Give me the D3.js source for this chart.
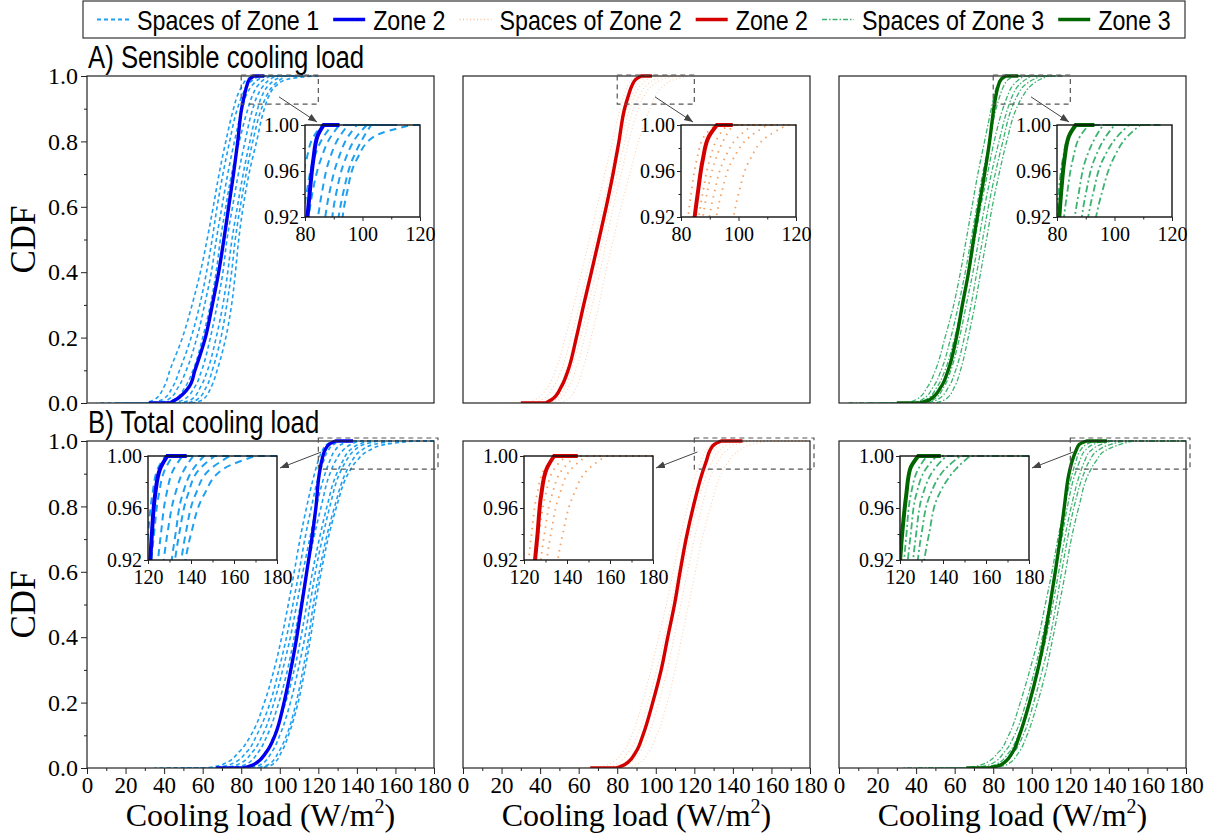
<!DOCTYPE html>
<html>
<head>
<meta charset="utf-8">
<script src="https://cdnjs.cloudflare.com/ajax/libs/d3/7.8.5/d3.min.js"></script>
<style>
  body { margin: 0; background: #fff; }
  svg { display: block; }
</style>
</head>
<body>
<svg width="1222" height="840"></svg>
<script>
var levels = [0, 0.01, 0.05, 0.1, 0.2, 0.3, 0.4, 0.5, 0.6, 0.7, 0.8, 0.9, 0.94, 0.97, 0.99, 1];

// one curve = [start of flat part at 0, load at each level above ..., end of flat part at 1]  (W/m2)
var sensZone1 = [32, 43, 46, 53, 56, 61.4, 65, 68.3, 71, 73.5, 76, 78.2, 80.2, 81.6, 82.9, 84.3, 86.5, 92];
var sensSpaces1 = [
  [5, 30, 35, 40, 43, 49.5, 54.5, 58.8, 62.3, 65.5, 68.5, 72, 76, 78, 80.5, 83, 86, 96],
  [15, 34, 39, 44.5, 48, 54, 58.5, 62, 64.9, 67.5, 70.5, 74, 78, 80.5, 83, 86.5, 89.5, 100],
  [20, 37, 42, 47.5, 51.5, 57, 61, 64.5, 67.1, 70, 73, 76.5, 80.5, 82.5, 85.5, 89, 92, 104],
  [25, 40, 45, 51, 55, 60, 64, 67, 69.2, 72, 75, 79, 83.5, 85.8, 88.5, 92, 95, 106],
  [30, 45, 50, 56, 59.5, 64, 67.5, 70.5, 72.6, 75.5, 78.5, 82, 86, 88.4, 91.5, 95, 98, 108],
  [35, 48, 54, 59, 62.5, 67, 70.5, 73, 75.2, 78, 81, 84.5, 88.5, 90.8, 94, 98, 101.5, 110],
  [40, 52, 57, 62, 65, 69.5, 72.5, 75, 76.9, 79.5, 82.5, 86, 90.5, 93.2, 96.5, 100.5, 103, 112],
  [45, 55, 60, 64.5, 67.5, 72, 75, 77, 78.7, 81, 84, 88, 92, 94.5, 98, 104, 117, 120]
];

var sensZone2 = [30, 43, 45.9, 51, 54.5, 58.8, 62.6, 66.6, 70.5, 74.3, 77.8, 80.9, 83.8, 85.8, 87.6, 89.7, 92.5, 98];
var sensSpaces2 = [
  [15, 32, 37, 44, 48, 53, 57.5, 61.5, 65.5, 69.5, 73.5, 77.5, 81.5, 83.5, 85.5, 88, 92, 100],
  [20, 36, 41, 47, 51, 56, 60.5, 64.5, 68.5, 72.5, 76.5, 80.5, 85, 87.5, 90, 93, 96, 104],
  [25, 40, 45, 50, 53.5, 58, 62, 66, 70, 74, 78, 82, 86.5, 89, 92, 95.5, 98, 108],
  [30, 44, 48, 53, 56, 61, 65, 69, 72.5, 76, 80, 84, 88.5, 91.5, 95, 100, 105, 112],
  [32, 46, 50, 55, 58.5, 63, 67, 71, 74.5, 78, 82, 86, 91, 94, 98, 104, 110, 116],
  [35, 50, 54, 59, 62, 66.5, 70.5, 74, 78, 82, 86.5, 91, 97, 100, 104, 110, 117, 120]
];

var sensZone3 = [30, 42, 47, 53, 56.6, 60.9, 64, 67.2, 69.8, 72.6, 75.5, 78.1, 80.3, 81.4, 82.6, 84.1, 86.5, 93];
var sensSpaces3 = [
  [5, 35, 40, 46, 50, 55, 59.5, 63, 66, 69, 72, 75.5, 79, 80.5, 82, 84, 87, 95],
  [15, 38, 43, 49, 53, 58, 62, 65.5, 68.5, 71.5, 74.5, 78, 81.5, 83.5, 85.5, 88, 91, 100],
  [20, 40, 45, 51, 55, 60, 64, 67.5, 70.5, 73.5, 77, 80.5, 85, 87.5, 90, 93.5, 96, 104],
  [25, 44, 49, 54.5, 58, 62.5, 66, 69.5, 72.5, 75.5, 79, 83, 87.5, 90, 93, 97, 100, 108],
  [30, 46, 51, 57, 60.5, 65, 68.5, 71.5, 74.5, 77.5, 81, 85, 89.5, 92.5, 96, 101, 105, 112],
  [35, 50, 55, 60, 63, 67, 70.5, 73.5, 76.5, 79.5, 83, 87, 92, 95.5, 99.5, 104.5, 109, 116]
];

var totZone1 = [67, 81, 86.3, 93.2, 97.5, 102.2, 105.7, 108.8, 111.4, 114, 116.6, 118.8, 120.5, 121.8, 123.3, 125.6, 129, 138];
var totSpaces1 = [
  [35, 62, 70, 79, 85, 92, 97, 101, 104.4, 107.5, 110.5, 114, 118, 120, 122, 124.5, 128, 180],
  [40, 66, 74, 83, 88, 95, 99.5, 103.5, 106.8, 110, 113, 116.5, 120.5, 122.8, 125, 128, 131.5, 180],
  [45, 70, 78, 86, 91, 97, 101.5, 105.5, 108.8, 112, 115.5, 119, 123.5, 126, 128.5, 132, 136, 180],
  [50, 74, 82, 89, 93.5, 99.5, 104, 107.5, 110.8, 114, 117.5, 121.5, 126, 129, 132.5, 137, 141, 180],
  [55, 80, 87, 93, 97, 103, 107.5, 111, 114, 117, 120.5, 124.5, 129.5, 132.8, 136, 141, 146, 180],
  [60, 84, 90, 96, 100, 105.5, 109.5, 113, 115.7, 118.5, 122, 126, 131, 134.5, 138.5, 144, 151, 180],
  [65, 88, 94, 99.5, 103.5, 108.5, 112, 115, 117.4, 120.5, 124, 128.5, 134, 137.5, 142, 149, 158, 180],
  [70, 90, 96, 101, 104.5, 109.5, 113, 116, 118.5, 121.5, 125, 129.5, 135.5, 140, 146, 155, 170, 180]
];

var totZone2 = [66, 79.5, 83.8, 89.8, 93.3, 98.4, 102.8, 106.2, 109.7, 112.6, 115.7, 119.5, 124, 126.3, 128, 130.5, 134, 145];
var totSpaces2 = [
  [50, 68, 75, 83, 87.5, 93, 97.5, 101.5, 105.5, 109, 112.5, 116.5, 121, 123.5, 126, 129.5, 134, 180],
  [55, 72, 79, 86, 90.5, 96, 100.5, 104.5, 108, 111.5, 115, 119, 124, 127, 130, 134, 139.5, 180],
  [58, 76, 82, 89, 93, 98.5, 103, 107, 110.5, 114, 117.5, 121.5, 126.5, 129.5, 133, 138, 144, 180],
  [62, 79, 85, 92, 96, 101.5, 106, 109.5, 113, 116.5, 120, 124, 129, 132.5, 136.5, 142, 149, 180],
  [65, 84, 90, 96.5, 100.5, 106, 110, 113.5, 117, 120.5, 124, 128.5, 134, 138, 143, 150, 158, 180]
];

var totZone3 = [66, 78, 84.1, 90.2, 93.6, 98.8, 103.1, 106.6, 109.5, 112.2, 114.7, 116.9, 119.3, 121, 122.9, 124.7, 128.5, 139];
var totSpaces3 = [
  [33, 66, 74, 83, 88, 94, 99, 103.5, 107, 110.5, 113.5, 117, 121, 123, 125, 128.5, 132.5, 180],
  [40, 70, 78, 86, 91, 97, 101.5, 105.5, 109, 112, 115.5, 118.5, 122.5, 125, 127.5, 132, 137, 180],
  [45, 73, 81, 88.5, 93, 99, 103.5, 107.5, 110.9, 114, 117, 120.5, 125, 127.5, 130.5, 136, 141.5, 180],
  [50, 76, 84, 91, 95.5, 101, 105.5, 109.5, 112.6, 115.5, 118.5, 122, 127, 130, 134, 141, 148, 180],
  [55, 80, 87, 93.5, 97.5, 103, 107.5, 111, 114.3, 117.5, 120.5, 124.5, 129.5, 133.5, 138, 146, 152.5, 180]
];

var xTicks = [0, 20, 40, 60, 80, 100, 120, 140, 160, 180];
var yTicks = [0, 0.2, 0.4, 0.6, 0.8, 1.0];
var insetYTicks = [0.92, 0.96, 1.00];
var zoomSens = [80, 120];
var zoomTot = [120, 180];
var rowTitles = ["A) Sensible cooling load", "B) Total cooling load"];
var legendLabels = ["Spaces of Zone 1", "Zone 2", "Spaces of Zone 2", "Zone 2", "Spaces of Zone 3", "Zone 3"];

// ---- styles ----
var serif = "'Liberation Serif', 'Times New Roman', serif";
var sans = "'Liberation Sans', Arial, sans-serif";
var mainColors = ["#0000f0", "#d40000", "#006600"];
var spaceStyles = [
  { color: "#1ea0f2", width: 1.6, dash: "4,3", op: 1, iwidth: 2, idash: "7,5", iop: 1 },
  { color: "#f39a55", width: 1.1, dash: "1,2.5", op: 0.45, iwidth: 1.8, idash: "1.5,5", iop: 0.95 },
  { color: "#3cb371", width: 1.3, dash: "5,2,1.5,2", op: 1, iwidth: 1.8, idash: "7,3,2,3", iop: 1 }
];

var svg = d3.select("svg");
var W = 347, H = 327;
var colX = [87, 463, 839];
var rowY = [76, 441];

var defs = svg.append("defs");
defs.append("marker").attr("id", "arr")
  .attr("viewBox", "0 0 10 10").attr("refX", 10).attr("refY", 5)
  .attr("markerWidth", 9).attr("markerHeight", 9).attr("markerUnits", "userSpaceOnUse")
  .attr("orient", "auto")
  .append("path").attr("d", "M0,1L10,5L0,9Z").attr("fill", "#444");

function curvePath(c, x, y) {
  var lo = c[0], hi = c[c.length - 1];
  var pts = c.slice(1, -1).map(function(v, i) { return [v, levels[i]]; }).reverse();
  var line = d3.line()
    .x(function(d) { return x(d[0]); })
    .y(function(d) { return y(d[1]); })
    .curve(d3.curveMonotoneY);
  var s = line(pts);
  return "M" + x(hi) + "," + y(1) + "L" + s.slice(1) + "L" + x(lo) + "," + y(0);
}

function styleTicks(sel, size) {
  sel.attr("font-family", null).attr("font-size", null);
  sel.select(".domain").remove();
  sel.selectAll("text").style("font-family", serif).style("font-size", size + "px").attr("fill", "#000");
  sel.selectAll("line").attr("stroke", "#222");
}

var panels = [
  { row: 0, col: 0, main: sensZone1, spaces: sensSpaces1, win: zoomSens },
  { row: 0, col: 1, main: sensZone2, spaces: sensSpaces2, win: zoomSens },
  { row: 0, col: 2, main: sensZone3, spaces: sensSpaces3, win: zoomSens },
  { row: 1, col: 0, main: totZone1, spaces: totSpaces1, win: zoomTot },
  { row: 1, col: 1, main: totZone2, spaces: totSpaces2, win: zoomTot },
  { row: 1, col: 2, main: totZone3, spaces: totSpaces3, win: zoomTot }
];

panels.forEach(function(p, pi) {
  var g = svg.append("g").attr("transform", "translate(" + colX[p.col] + "," + rowY[p.row] + ")");
  var x = d3.scaleLinear().domain([0, 180]).range([0, W]);
  var y = d3.scaleLinear().domain([0, 1]).range([H, 0]);
  var st = spaceStyles[p.col];

  defs.append("clipPath").attr("id", "clip" + pi)
    .append("rect").attr("x", 0).attr("y", -2).attr("width", W).attr("height", H + 2);

  var plot = g.append("g").attr("clip-path", "url(#clip" + pi + ")");
  plot.selectAll(".sp").data(p.spaces).enter().append("path")
    .attr("d", function(d) { return curvePath(d, x, y); })
    .attr("fill", "none").attr("stroke", st.color).attr("stroke-width", st.width)
    .attr("stroke-dasharray", st.dash).attr("stroke-opacity", st.op);
  plot.append("path").attr("d", curvePath(p.main, x, y))
    .attr("fill", "none").attr("stroke", mainColors[p.col]).attr("stroke-width", 3.4);

  g.append("rect").attr("width", W).attr("height", H)
    .attr("fill", "none").attr("stroke", "#222").attr("stroke-width", 1.2);

  if (p.col === 0) {
    styleTicks(g.append("g").call(d3.axisLeft(y).tickValues(yTicks).tickFormat(d3.format(".1f")).tickSize(6).tickPadding(3)), 24);
    styleTicks(g.append("g").call(d3.axisLeft(y).tickValues([0.1, 0.3, 0.5, 0.7, 0.9]).tickFormat("").tickSize(3)), 24);
    g.append("text").attr("transform", "translate(-52," + (H / 2) + ") rotate(-90)")
      .attr("text-anchor", "middle")
      .style("font-family", serif).style("font-size", "35px")
      .text("CDF");
  }
  if (p.row === 1) {
    styleTicks(g.append("g").attr("transform", "translate(0," + H + ")")
      .call(d3.axisBottom(x).tickValues(xTicks).tickFormat(d3.format("d")).tickSize(6).tickPadding(3)), 23);
    styleTicks(g.append("g").attr("transform", "translate(0," + H + ")")
      .call(d3.axisBottom(x).tickValues(d3.range(10, 180, 20)).tickFormat("").tickSize(3)), 23);
    var lab = g.append("text").attr("x", W / 2).attr("y", H + 58)
      .attr("text-anchor", "middle")
      .style("font-family", serif).style("font-size", "32px");
    lab.append("tspan").text("Cooling load (W/m");
    lab.append("tspan").attr("dy", -13).style("font-size", "20px").text("2");
    lab.append("tspan").attr("dy", 13).text(")");
  }

  // zoom window, arrow and inset
  var isA = p.row === 0;
  var rx0 = x(p.win[0]), rx1 = isA ? x(p.win[1]) : x(p.win[1]) + 4;
  var ry0 = isA ? y(1) - 1 : y(1) - 3, ry1 = y(0.92) + 2;
  g.append("rect").attr("x", rx0).attr("y", ry0).attr("width", rx1 - rx0).attr("height", ry1 - ry0)
    .attr("fill", "none").attr("stroke", "#555").attr("stroke-width", 1.2).attr("stroke-dasharray", "5,4");

  var ib = isA ? { x: 218, y: 49, w: 115, h: 92 } : { x: 61, y: 15, w: 129, h: 104 };
  var a0 = isA ? [rx0 + (rx1 - rx0) * 0.49, ry0 + (ry1 - ry0) * 0.75] : [rx0 + 3, ry0 + 14];
  var a1 = isA ? [ib.x + 12, ib.y - 3] : [ib.x + ib.w + 3, ib.y + 12];
  g.append("line").attr("x1", a0[0]).attr("y1", a0[1]).attr("x2", a1[0]).attr("y2", a1[1])
    .attr("stroke", "#444").attr("stroke-width", 1).attr("marker-end", "url(#arr)");

  var ig = g.append("g").attr("transform", "translate(" + ib.x + "," + ib.y + ")");
  var ix = d3.scaleLinear().domain(p.win).range([0, ib.w]);
  var iy = d3.scaleLinear().domain([0.92, 1]).range([ib.h, 0]);
  ig.append("rect").attr("width", ib.w).attr("height", ib.h).attr("fill", "#fff");
  defs.append("clipPath").attr("id", "iclip" + pi)
    .append("rect").attr("x", 0).attr("y", -2).attr("width", ib.w).attr("height", ib.h + 2);
  var iplot = ig.append("g").attr("clip-path", "url(#iclip" + pi + ")");
  iplot.selectAll(".sp").data(p.spaces).enter().append("path")
    .attr("d", function(d) { return curvePath(d, ix, iy); })
    .attr("fill", "none").attr("stroke", st.color).attr("stroke-width", st.iwidth)
    .attr("stroke-dasharray", st.idash).attr("stroke-opacity", st.iop);
  iplot.append("path").attr("d", curvePath(p.main, ix, iy))
    .attr("fill", "none").attr("stroke", mainColors[p.col]).attr("stroke-width", 4);
  ig.append("rect").attr("width", ib.w).attr("height", ib.h)
    .attr("fill", "none").attr("stroke", "#111").attr("stroke-width", 1.4);

  styleTicks(ig.append("g").call(d3.axisLeft(iy).tickValues(insetYTicks).tickFormat(d3.format(".2f")).tickSize(4).tickPadding(2)), 20);
  styleTicks(ig.append("g").call(d3.axisLeft(iy).tickValues([0.94, 0.98]).tickFormat("").tickSize(2.5)), 20);
  styleTicks(ig.append("g").attr("transform", "translate(0," + ib.h + ")")
    .call(d3.axisBottom(ix).tickValues(d3.range(p.win[0], p.win[1] + 1, 20)).tickFormat(d3.format("d")).tickSize(4).tickPadding(6)), 20);
  styleTicks(ig.append("g").attr("transform", "translate(0," + ib.h + ")")
    .call(d3.axisBottom(ix).tickValues(d3.range(p.win[0] + 10, p.win[1], 20)).tickFormat("").tickSize(2.5)), 20);
});

// row titles
rowTitles.forEach(function(t, i) {
  var tx = svg.append("text").attr("x", 88).attr("y", rowY[i] - 8)
    .style("font-family", sans).style("font-size", "31px")
    .text(t);
  var w = tx.node().getComputedTextLength();
  tx.attr("textLength", w * 0.83).attr("lengthAdjust", "spacingAndGlyphs");
});

// legend
var leg = svg.append("g");
leg.append("rect").attr("x", 83).attr("y", 1).attr("width", 1102).attr("height", 37)
  .attr("fill", "#fff").attr("stroke", "#333").attr("stroke-width", 1.2);
var lx = 97;
legendLabels.forEach(function(lbl, i) {
  var zone = Math.floor(i / 2);
  var sym = leg.append("line").attr("x1", lx).attr("x2", lx + 32).attr("y1", 19.5).attr("y2", 19.5);
  if (i % 2 === 0) {
    var st = spaceStyles[zone];
    sym.attr("stroke", st.color).attr("stroke-width", st.width + 0.4)
      .attr("stroke-dasharray", st.dash).attr("stroke-opacity", Math.min(1, st.op + 0.2));
  } else {
    sym.attr("stroke", mainColors[zone]).attr("stroke-width", 3.4);
  }
  var t = leg.append("text").attr("x", lx + 40).attr("y", 29.5)
    .style("font-family", sans).style("font-size", "28px")
    .text(lbl);
  var w = t.node().getComputedTextLength() * 0.83;
  t.attr("textLength", w).attr("lengthAdjust", "spacingAndGlyphs");
  lx = lx + 40 + w + 14;
});
</script>
</body>
</html>
